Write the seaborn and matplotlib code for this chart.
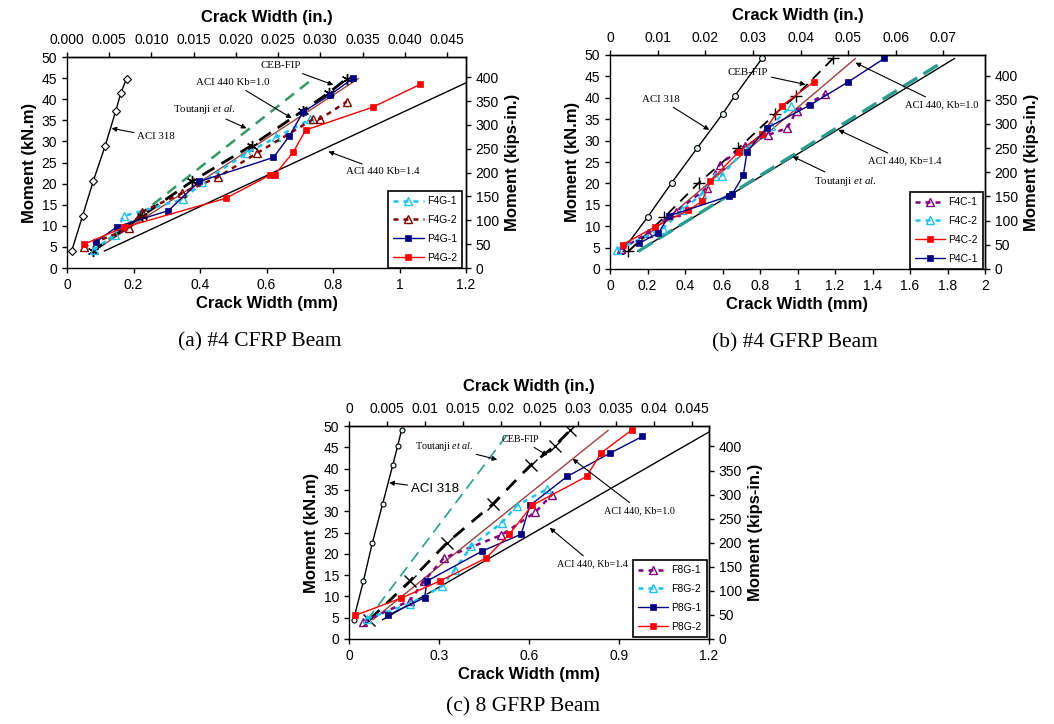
import matplotlib
matplotlib.use("Agg")
import matplotlib.pyplot as plt
import seaborn as sns
from matplotlib.ticker import FuncFormatter

# ---------------- unit conversions ----------------
KNM_TO_KIPIN = 8.8507
MM_PER_IN = 25.4

# ================= Panel (a): #4 CFRP Beam =================
a_pred_m = [4.0, 12.4, 20.6, 29.0, 37.3, 41.5, 44.9]
a_aci318_w = [0.014, 0.047, 0.079, 0.115, 0.147, 0.162, 0.179]
a_ceb_w = [0.078, 0.227, 0.377, 0.555, 0.710, 0.787, 0.842]
a_k10_w = [0.080, 0.877]
a_k10_m = [4.0, 44.9]
a_k14_w = [0.112, 1.228]
a_k14_m = [4.0, 44.9]
a_tout_w = [0.080, 0.742]
a_tout_m = [4.0, 45.0]
a_f1_w = [0.080, 0.145, 0.170, 0.350, 0.407, 0.540, 0.630, 0.731]
a_f1_m = [4.3, 7.9, 12.3, 16.3, 20.3, 27.2, 31.0, 35.2]
a_f2_w = [0.050, 0.187, 0.225, 0.345, 0.455, 0.571, 0.741, 0.761, 0.841]
a_f2_m = [5.0, 9.4, 13.3, 17.7, 21.6, 27.2, 35.3, 35.3, 39.4]
a_p1_w = [0.087, 0.151, 0.305, 0.398, 0.621, 0.669, 0.710, 0.791, 0.861]
a_p1_m = [6.2, 9.8, 13.6, 20.5, 26.2, 31.3, 37.0, 41.0, 45.0]
a_p2_w = [0.050, 0.170, 0.477, 0.610, 0.625, 0.680, 0.718, 0.919, 1.062]
a_p2_m = [5.6, 9.6, 16.5, 22.0, 22.1, 27.4, 32.7, 38.1, 43.5]
a_names = ["F4G-1", "F4G-2", "P4G-1", "P4G-2"]
a_xticks = [0, 0.2, 0.4, 0.6, 0.8, 1.0, 1.2]
a_top_ticks = [0.000, 0.005, 0.010, 0.015, 0.020, 0.025, 0.030, 0.035, 0.040, 0.045]
a_top_labels = ["0.000", "0.005", "0.010", "0.015", "0.020", "0.025", "0.030",
                "0.035", "0.040", "0.045"]

# ================= Panel (b): #4 GFRP Beam =================
b_pred_m = [4.1, 12.1, 20.2, 28.2, 36.2, 40.4, 49.2]
b_aci318_w = [0.064, 0.200, 0.330, 0.464, 0.600, 0.665, 0.811]
b_ceb_w = [0.097, 0.290, 0.475, 0.685, 0.880, 0.990, 1.190]
b_k10_w = [0.097, 1.309]
b_k10_m = [4.1, 49.2]
b_k14_w = [0.147, 1.838]
b_k14_m = [4.1, 49.2]
b_tout_w = [0.150, 1.772]
b_tout_m = [4.1, 48.3]
b_f1_w = [0.060, 0.200, 0.350, 0.515, 0.585, 0.720, 0.840, 0.945, 0.995, 1.148]
b_f1_m = [4.6, 8.4, 13.3, 18.9, 24.4, 28.8, 31.3, 32.9, 37.0, 40.9]
b_f2_w = [0.037, 0.280, 0.385, 0.490, 0.560, 0.595, 0.720, 0.860, 0.963]
b_f2_m = [4.5, 9.4, 13.7, 17.5, 21.7, 21.8, 28.0, 33.5, 38.0]
b_p2_w = [0.067, 0.238, 0.418, 0.490, 0.535, 0.687, 0.810, 0.918, 1.086]
b_p2_m = [5.7, 9.8, 13.7, 15.8, 20.5, 27.4, 31.5, 38.2, 43.7]
b_p1_w = [0.155, 0.258, 0.314, 0.632, 0.652, 0.711, 0.731, 0.835, 1.067, 1.270, 1.463]
b_p1_m = [6.0, 8.4, 12.4, 17.0, 17.5, 21.9, 27.4, 32.9, 38.3, 43.7, 49.2]
b_names = ["F4C-1", "F4C-2", "P4C-2", "P4C-1"]
b_xticks = [0, 0.2, 0.4, 0.6, 0.8, 1.0, 1.2, 1.4, 1.6, 1.8, 2.0]
b_top_ticks = [0, 0.01, 0.02, 0.03, 0.04, 0.05, 0.06, 0.07]
b_top_labels = ["0", "0.01", "0.02", "0.03", "0.04", "0.05", "0.06", "0.07"]

# ================= Panel (c): 8 GFRP Beam =================
c_pred_m = [4.5, 13.6, 22.6, 31.7, 40.85, 45.25, 49.0]
c_aci318_w = [0.015, 0.048, 0.078, 0.112, 0.146, 0.162, 0.175]
c_ceb_w = [0.068, 0.203, 0.327, 0.480, 0.606, 0.685, 0.737]
c_k10_w = [0.079, 0.864]
c_k10_m = [4.5, 49.0]
c_k14_w = [0.111, 1.210]
c_k14_m = [4.5, 49.0]
c_tout_w = [0.060, 0.531]
c_tout_m = [4.4, 48.3]
c_f1_w = [0.048, 0.203, 0.250, 0.316, 0.508, 0.620, 0.677]
c_f1_m = [4.1, 9.0, 13.6, 19.0, 24.4, 29.7, 33.9]
c_f2_w = [0.060, 0.203, 0.309, 0.353, 0.408, 0.509, 0.559, 0.661]
c_f2_m = [4.8, 8.25, 12.35, 16.3, 21.85, 27.25, 31.3, 35.25]
c_p1_w = [0.130, 0.252, 0.260, 0.443, 0.574, 0.603, 0.727, 0.871, 0.978]
c_p1_m = [5.6, 9.7, 13.6, 20.6, 24.6, 31.35, 38.15, 43.65, 47.55]
c_p2_w = [0.021, 0.174, 0.304, 0.457, 0.534, 0.610, 0.792, 0.840, 0.943]
c_p2_m = [5.55, 9.6, 13.65, 19.0, 24.55, 31.35, 38.15, 43.65, 49.1]
c_names = ["F8G-1", "F8G-2", "P8G-1", "P8G-2"]
c_xticks = [0, 0.3, 0.6, 0.9, 1.2]
c_top_ticks = [0, 0.005, 0.01, 0.015, 0.02, 0.025, 0.03, 0.035, 0.04, 0.045]
c_top_labels = ["0", "0.005", "0.01", "0.015", "0.02", "0.025", "0.03", "0.035",
                "0.04", "0.045"]

y_ticks = [0, 5, 10, 15, 20, 25, 30, 35, 40, 45, 50]
kip_ticks = [0, 50, 100, 150, 200, 250, 300, 350, 400]

# ---------------- colours ----------------
NAVY = "#000080"
RED = "#ff0000"
CYAN = "#1ec3f0"
MAROON = "#800000"
PURPLE = "#800080"
BROWN = "#a0403a"
GREEN = "#339966"
TEAL = "#2a9d92"

# ---------------- style ----------------
sns.set_style("ticks")
plt.rcParams["font.family"] = ["Liberation Sans", "DejaVu Sans"]
plt.rcParams["mathtext.fontset"] = "custom"
plt.rcParams["mathtext.rm"] = "Liberation Serif"
plt.rcParams["mathtext.it"] = "Liberation Serif:italic"
plt.rcParams["axes.edgecolor"] = "black"
plt.rcParams["axes.labelcolor"] = "black"
plt.rcParams["text.color"] = "black"
plt.rcParams["axes.linewidth"] = 1.0
plt.rcParams["xtick.color"] = "black"
plt.rcParams["ytick.color"] = "black"
plt.rcParams["xtick.major.size"] = 3.5
plt.rcParams["ytick.major.size"] = 3.5
plt.rcParams["legend.numpoints"] = 1

TICK_FS = 10
LABEL_FS = 12
SERIF = ["Liberation Serif", "DejaVu Serif"]

fig = plt.figure(figsize=(10.54, 7.24), dpi=100)
W, H = 1054.0, 724.0


def make_axes(left, top, right, bottom):
    return fig.add_axes([left / W, 1 - bottom / H, (right - left) / W, (bottom - top) / H])


def line(ax, w, m, **kw):
    sns.lineplot(x=w, y=m, ax=ax, sort=False, estimator=None, errorbar=None,
                 legend=False, **kw)
    return ax.lines[-1]


def fseries(ax, w, m, color):
    return line(ax, w, m, color=color, lw=1.8, linestyle=(0, (2, 2)), marker="^",
                markersize=5.5, markerfacecolor="none", markeredgecolor=color,
                markeredgewidth=1.0)


def pseries(ax, w, m, color):
    return line(ax, w, m, color=color, lw=1.0, linestyle="-", marker="s",
                markersize=5, markerfacecolor=color, markeredgecolor=color,
                markeredgewidth=0.5)


def setup(ax, xmax, xticks, top_ticks, top_labels):
    ax.set_xlim(0, xmax)
    ax.set_ylim(0, 50)
    ax.set_xticks(xticks)
    ax.set_yticks(y_ticks)
    ax.xaxis.set_major_formatter(FuncFormatter(lambda v, p: "%g" % round(v, 3)))
    ax.tick_params(labelsize=TICK_FS, direction="out", length=3.5, width=1,
                   colors="black")
    ax.set_xlabel("Crack Width (mm)", fontsize=LABEL_FS, fontweight="bold", labelpad=3)
    ax.set_ylabel("Moment (kN.m)", fontsize=LABEL_FS, fontweight="bold", labelpad=3)
    for s in ax.spines.values():
        s.set_visible(True)
        s.set_color("black")
    top = ax.secondary_xaxis("top", functions=(lambda x: x / MM_PER_IN,
                                               lambda x: x * MM_PER_IN))
    top.set_ticks(top_ticks, labels=top_labels)
    top.tick_params(labelsize=TICK_FS, direction="out", length=3.5, width=1,
                    colors="black")
    top.set_xlabel("Crack Width (in.)", fontsize=LABEL_FS, fontweight="bold", labelpad=8)
    right = ax.secondary_yaxis("right", functions=(lambda m: m * KNM_TO_KIPIN,
                                                   lambda k: k / KNM_TO_KIPIN))
    right.set_ticks(kip_ticks)
    right.tick_params(labelsize=TICK_FS, direction="out", length=3.5, width=1,
                      colors="black")
    right.set_ylabel("Moment (kips-in.)", fontsize=LABEL_FS, fontweight="bold", labelpad=4)


def legend(ax, handles, names, anchor):
    leg = ax.legend(handles, names, loc="lower right", bbox_to_anchor=anchor,
                    fontsize=7.5, frameon=True, fancybox=False, framealpha=1,
                    edgecolor="black", handlelength=2.9, labelspacing=0.85,
                    borderaxespad=0.0, borderpad=0.5, handletextpad=0.3)
    leg.get_frame().set_linewidth(1.2)
    leg.set_zorder(10)


def note(ax, text, xy, xytext, fs=7.8, family=SERIF):
    ax.annotate(text, xy=xy, xytext=xytext, ha="center", va="center", fontsize=fs,
                family=family, color="black",
                arrowprops=dict(arrowstyle="-|>", color="black", lw=0.8,
                                mutation_scale=7, shrinkA=0, shrinkB=0))


TOUT = r"Toutanji $\mathit{et\ al.}$"

# ---------------- Panel (a) ----------------
ax = make_axes(67, 57, 466, 268)
line(ax, a_k14_w, a_k14_m, color="black", lw=1.0)
line(ax, a_k10_w, a_k10_m, color=BROWN, lw=1.0)
line(ax, a_tout_w, a_tout_m, color=GREEN, lw=1.8, linestyle=(0, (4.5, 3)))
line(ax, a_aci318_w, a_pred_m, color="black", lw=1.0, marker="D", markersize=3.8,
     markerfacecolor="white", markeredgecolor="black", markeredgewidth=0.8)
line(ax, a_ceb_w, a_pred_m, color="black", lw=2.0, linestyle=(0, (5, 3)),
     marker=(6, 2, 0), markersize=8, markeredgecolor="black", markeredgewidth=1.0)
h1 = fseries(ax, a_f1_w, a_f1_m, CYAN)
h2 = fseries(ax, a_f2_w, a_f2_m, MAROON)
h3 = pseries(ax, a_p1_w, a_p1_m, NAVY)
h4 = pseries(ax, a_p2_w, a_p2_m, RED)
setup(ax, 1.2, a_xticks, a_top_ticks, a_top_labels)
legend(ax, [h1, h2, h3, h4], a_names, (1 - 4 / 399, 0.0))
note(ax, "ACI 318", (0.134, 33.1), (0.268, 31.1))
note(ax, TOUT, (0.540, 33.1), (0.413, 37.6))
note(ax, "ACI 440 Kb=1.0", (0.676, 35.5), (0.499, 43.9))
note(ax, "CEB-FIP", (0.801, 43.4), (0.644, 47.9))
note(ax, "ACI 440 Kb=1.4", (0.786, 27.6), (0.951, 22.8))

# ---------------- Panel (b) ----------------
ax = make_axes(610, 55, 985, 269)
line(ax, b_k14_w, b_k14_m, color="black", lw=1.0)
line(ax, b_tout_w, b_tout_m, color=TEAL, lw=2.4, linestyle=(0, (5, 2.2)))
line(ax, b_k10_w, b_k10_m, color=BROWN, lw=1.0)
line(ax, b_aci318_w, b_pred_m, color="black", lw=1.0, marker="o", markersize=4.2,
     markerfacecolor="#eef8f8", markeredgecolor="black", markeredgewidth=0.8)
line(ax, b_ceb_w, b_pred_m, color="black", lw=1.3, linestyle=(0, (6, 4)),
     marker="+", markersize=9, markeredgecolor="black", markeredgewidth=1.0)
h1 = fseries(ax, b_f1_w, b_f1_m, PURPLE)
h2 = fseries(ax, b_f2_w, b_f2_m, CYAN)
h3 = pseries(ax, b_p2_w, b_p2_m, RED)
h4 = pseries(ax, b_p1_w, b_p1_m, NAVY)
setup(ax, 2.0, b_xticks, b_top_ticks, b_top_labels)
legend(ax, [h1, h2, h3, h4], b_names, (1 - 2 / 375, 0.0))
note(ax, "CEB-FIP", (1.043, 43.1), (0.736, 46.0))
note(ax, "ACI 318", (0.529, 32.5), (0.272, 39.6))
note(ax, "ACI 440, Kb=1.0", (1.309, 48.2), (1.768, 38.4), fs=7.6)
note(ax, "ACI 440, Kb=1.4", (1.218, 32.5), (1.570, 25.3), fs=7.6)
note(ax, TOUT, (0.974, 26.3), (1.255, 20.4))

# ---------------- Panel (c) ----------------
ax = make_axes(349, 426, 709, 639)
line(ax, c_k14_w, c_k14_m, color="black", lw=1.0)
line(ax, c_k10_w, c_k10_m, color=BROWN, lw=1.0)
line(ax, c_tout_w, c_tout_m, color=TEAL, lw=1.2, linestyle=(0, (7, 4)))
line(ax, c_aci318_w, c_pred_m, color="black", lw=1.0, marker="o", markersize=3.6,
     markerfacecolor="#eef8f8", markeredgecolor="black", markeredgewidth=0.8)
line(ax, c_ceb_w, c_pred_m, color="black", lw=2.0, linestyle=(0, (5, 3.5)),
     marker="x", markersize=8.5, markeredgecolor="black", markeredgewidth=1.0)
h1 = fseries(ax, c_f1_w, c_f1_m, PURPLE)
h2 = fseries(ax, c_f2_w, c_f2_m, CYAN)
h3 = pseries(ax, c_p1_w, c_p1_m, NAVY)
h4 = pseries(ax, c_p2_w, c_p2_m, RED)
setup(ax, 1.2, c_xticks, c_top_ticks, c_top_labels)
legend(ax, [h1, h2, h3, h4], c_names, (1 - 2 / 360, 2 / 213))
note(ax, TOUT, (0.494, 42.1), (0.316, 45.3), fs=7.3)
note(ax, "CEB-FIP", (0.662, 43.1), (0.573, 46.8), fs=7.3)
note(ax, "ACI 318", (0.134, 36.7), (0.286, 35.3), fs=9.5,
     family=["Liberation Sans", "DejaVu Sans"])
note(ax, "ACI 440, Kb=1.0", (0.745, 42.3), (0.969, 30.2), fs=7.3)
note(ax, "ACI 440, Kb=1.4", (0.669, 26.1), (0.812, 17.7), fs=7.3)

# ---------------- captions ----------------
fig.text(260 / W, 1 - 342 / H, "(a) #4 CFRP Beam", ha="center", va="center",
         fontsize=15.5, family=SERIF, color="black")
fig.text(795 / W, 1 - 343 / H, "(b) #4 GFRP Beam", ha="center", va="center",
         fontsize=15.5, family=SERIF, color="black")
fig.text(523 / W, 1 - 707 / H, "(c) 8 GFRP Beam", ha="center", va="center",
         fontsize=15.5, family=SERIF, color="black")

fig.savefig("out.png", dpi=100, facecolor="white")
